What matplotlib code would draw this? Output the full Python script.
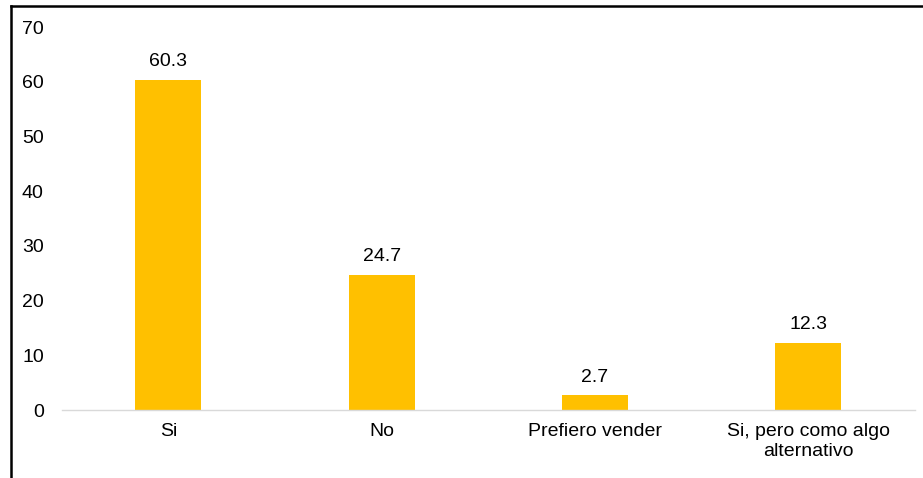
import matplotlib.pyplot as plt
from matplotlib.lines import Line2D

categories = ['Si', 'No', 'Prefiero vender', 'Si, pero como algo\nalternativo']
values = [60.3, 24.7, 2.7, 12.3]
value_labels = ['60.3', '24.7', '2.7', '12.3']

plt.rcParams['font.family'] = ['Liberation Sans', 'DejaVu Sans']

fig = plt.figure(figsize=(9.23, 4.78), dpi=100)
ax = fig.add_axes([0.067, 0.142, 0.924, 0.8015])

x = range(len(categories))
ax.bar(x, values, width=0.31, color='#FFC000', zorder=2)
for i, v in enumerate(values):
    ax.annotate(value_labels[i], (i, v), xytext=(0, 7), textcoords='offset points',
                ha='center', va='bottom', fontsize=14)

ax.set_xlim(-0.5, len(categories) - 0.5)
ax.set_ylim(0, 70)
ax.set_yticks(range(0, 71, 10))
ax.set_xticks(list(x))
ax.set_xticklabels(categories, fontsize=14, linespacing=1.25)
ax.tick_params(axis='y', labelsize=14, length=0, pad=13)
ax.tick_params(axis='x', length=0, pad=9)
for s in ['top', 'right', 'left']:
    ax.spines[s].set_visible(False)
ax.spines['bottom'].set_color('#d9d9d9')
ax.spines['bottom'].set_linewidth(1)
ax.spines['bottom'].set_zorder(3)

# outer frame (left and top only)
fig.add_artist(Line2D([0.0115, 0.0115], [0, 0.987], color='black', lw=1.8, transform=fig.transFigure))
fig.add_artist(Line2D([0.0115, 1.0], [0.987, 0.987], color='black', lw=1.8, transform=fig.transFigure))

fig.savefig('out.png', dpi=100)
